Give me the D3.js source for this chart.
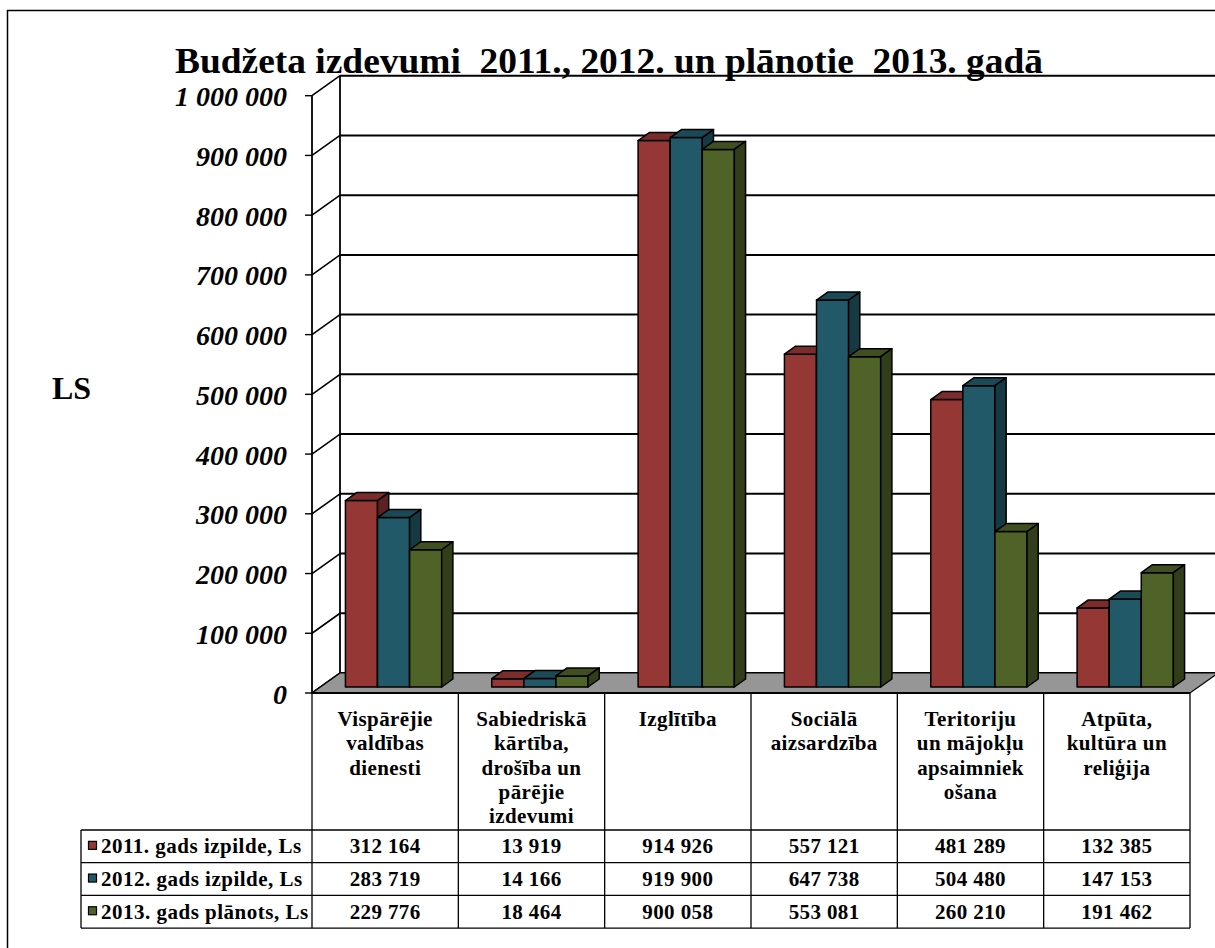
<!DOCTYPE html>
<html>
<head>
<meta charset="utf-8">
<script src="https://cdn.jsdelivr.net/npm/d3@7"></script>
<style>
  body { margin: 0; background: #fff; }
  svg { display: block; font-family: "Liberation Serif", "Times New Roman", serif; }
</style>
</head>
<body>
<svg width="1215" height="948"></svg>
<script>
// data
var categories = ["Vispārējie valdības dienesti", "Sabiedriskā kārtība, drošība un pārējie izdevumi",
                  "Izglītība", "Sociālā aizsardzība", "Teritoriju un mājokļu apsaimniekošana",
                  "Atpūta, kultūra un reliģija"];
var categoryLines = [
  ["Vispārējie", "valdības", "dienesti"],
  ["Sabiedriskā", "kārtība,", "drošība un", "pārējie", "izdevumi"],
  ["Izglītība"],
  ["Sociālā", "aizsardzība"],
  ["Teritoriju", "un mājokļu", "apsaimniek", "ošana"],
  ["Atpūta,", "kultūra un", "reliģija"]
];
var seriesNames = ["2011. gads izpilde, Ls", "2012. gads izpilde, Ls", "2013. gads plānots, Ls"];
var values2011 = [312164, 13919, 914926, 557121, 481289, 132385];
var values2012 = [283719, 14166, 919900, 647738, 504480, 147153];
var values2013 = [229776, 18464, 900058, 553081, 260210, 191462];
var yTickValues = [0, 100000, 200000, 300000, 400000, 500000, 600000, 700000, 800000, 900000, 1000000];

var seriesValues = [values2011, values2012, values2013];
// front, top, side shades
var shades = [
  ["#953735", "#7b2d2b", "#5c2120"],
  ["#215968", "#1b4a56", "#163a44"],
  ["#4f6228", "#3f4f20", "#323e19"]
];

var svg = d3.select("svg"),
    width = +svg.attr("width"),
    height = +svg.attr("height");

var loc = d3.formatLocale({ decimal: ",", thousands: " ", grouping: [3], currency: ["", ""] });
var fmt = loc.format(",d");

// 3D geometry
var left = 312, right = 1190, floorY = 693;
var DX = 28, DY = -20;          // depth vector of the plot box
var z0 = 0.3, z1 = 0.7;         // bars sit between these depths

var y = d3.scaleLinear().domain([0, 1000000]).range([floorY, 95.7]);
var x0 = d3.scaleBand().domain(categories).range([left, right]);
var x1 = d3.scaleBand().domain(seriesNames).range([0, x0.bandwidth()]).paddingOuter(0.78);

svg.append("rect").attr("width", width).attr("height", height).attr("fill", "#fff");

// outer frame
svg.append("rect")
  .attr("x", 7.5).attr("y", 10.5)
  .attr("width", width + 10).attr("height", height + 10)
  .attr("fill", "none").attr("stroke", "#000").attr("stroke-width", 1.5);

// title
svg.append("text")
  .attr("x", 175).attr("y", 72.5)
  .attr("font-size", 35).attr("font-weight", "bold")
  .attr("textLength", 868).attr("lengthAdjust", "spacingAndGlyphs")
  .style("white-space", "pre")
  .text("Budžeta izdevumi  2011., 2012. un plānotie  2013. gadā");

svg.append("text")
  .attr("x", 52).attr("y", 399)
  .attr("font-size", 32).attr("font-weight", "bold")
  .text("LS");

var grid = svg.append("g").attr("stroke", "#000").attr("fill", "none");

// back wall gridlines
grid.selectAll(".back")
  .data(yTickValues)
  .enter().append("line")
  .attr("x1", left + DX).attr("x2", right + DX + 30)
  .attr("y1", function(d) { return y(d) + DY; })
  .attr("y2", function(d) { return y(d) + DY; })
  .attr("stroke-width", 2);

// side wall gridlines
grid.selectAll(".side")
  .data(yTickValues)
  .enter().append("line")
  .attr("x1", left).attr("x2", left + DX)
  .attr("y1", function(d) { return y(d); })
  .attr("y2", function(d) { return y(d) + DY; })
  .attr("stroke-width", 1.6);

// tick marks
grid.selectAll(".tick")
  .data(yTickValues)
  .enter().append("line")
  .attr("x1", left - 7).attr("x2", left)
  .attr("y1", function(d) { return y(d); })
  .attr("y2", function(d) { return y(d); })
  .attr("stroke-width", 1.4);

grid.append("line")
  .attr("x1", left).attr("x2", left)
  .attr("y1", y(0)).attr("y2", y(1000000))
  .attr("stroke-width", 1.8);
grid.append("line")
  .attr("x1", left + DX).attr("x2", left + DX)
  .attr("y1", y(0) + DY).attr("y2", y(1000000) + DY)
  .attr("stroke-width", 1.8);

// floor
svg.append("polygon")
  .attr("points", [[left, floorY], [right, floorY], [right + DX, floorY + DY], [left + DX, floorY + DY]].join(" "))
  .attr("fill", "#969696").attr("stroke", "#000").attr("stroke-width", 1.2);
svg.append("line")
  .attr("x1", left).attr("x2", right)
  .attr("y1", floorY).attr("y2", floorY)
  .attr("stroke", "#000").attr("stroke-width", 2);

// bars
var bw = x1.bandwidth();
var bdx = (z1 - z0) * DX, bdy = (z1 - z0) * DY;
var bars = svg.append("g").attr("stroke", "#000").attr("stroke-width", 1.5).attr("stroke-linejoin", "round");

categories.forEach(function(cat, ci) {
  seriesNames.forEach(function(s, si) {
    var v = seriesValues[si][ci];
    var h = floorY - y(v);
    var xf = x0(cat) + x1(s) + z0 * DX;
    var yb = floorY + z0 * DY;
    var yt = yb - h;
    var g = bars.append("g");
    g.append("rect")
      .attr("x", xf).attr("y", yt).attr("width", bw).attr("height", h)
      .attr("fill", shades[si][0]);
    g.append("polygon")
      .attr("points", [[xf, yt], [xf + bw, yt], [xf + bw + bdx, yt + bdy], [xf + bdx, yt + bdy]].join(" "))
      .attr("fill", shades[si][1]);
    g.append("polygon")
      .attr("points", [[xf + bw, yt], [xf + bw + bdx, yt + bdy], [xf + bw + bdx, yb + bdy], [xf + bw, yb]].join(" "))
      .attr("fill", shades[si][2]);
  });
});

// y labels
svg.append("g")
  .selectAll("text")
  .data(yTickValues)
  .enter().append("text")
  .attr("x", 287)
  .attr("y", function(d) { return y(d) + 10.5; })
  .attr("text-anchor", "end")
  .attr("font-size", 28).attr("font-weight", "bold").attr("font-style", "italic")
  .text(function(d) { return fmt(d); });

// data table
var rowTop = 830, rowH = 32.7, legendLeft = 81;
var tbl = svg.append("g");
var lines = tbl.append("g").attr("stroke", "#000").attr("stroke-width", 1.3);
var colEdges = categories.map(function(c) { return x0(c); }).concat([right]);
var tableBottom = rowTop + rowH * seriesNames.length;

lines.selectAll(".v")
  .data(colEdges)
  .enter().append("line")
  .attr("x1", function(d) { return d; }).attr("x2", function(d) { return d; })
  .attr("y1", floorY).attr("y2", tableBottom);
lines.append("line")
  .attr("x1", legendLeft).attr("x2", legendLeft)
  .attr("y1", rowTop).attr("y2", tableBottom);
lines.selectAll(".h")
  .data(d3.range(seriesNames.length + 1))
  .enter().append("line")
  .attr("x1", legendLeft).attr("x2", right)
  .attr("y1", function(i) { return rowTop + i * rowH; })
  .attr("y2", function(i) { return rowTop + i * rowH; });

// category headers
categories.forEach(function(cat, ci) {
  var t = tbl.append("text")
    .attr("x", x0(cat) + x0.bandwidth() / 2)
    .attr("y", 726)
    .attr("text-anchor", "middle")
    .attr("font-size", 21).attr("font-weight", "bold")
    .attr("letter-spacing", 0.4);
  categoryLines[ci].forEach(function(line, li) {
    t.append("tspan")
      .attr("x", x0(cat) + x0.bandwidth() / 2)
      .attr("dy", li === 0 ? 0 : 24.3)
      .text(line);
  });
});

// rows
seriesNames.forEach(function(s, si) {
  var yc = rowTop + si * rowH + rowH / 2;
  tbl.append("rect")
    .attr("x", 88.5).attr("y", yc - 5)
    .attr("width", 8).attr("height", 8)
    .attr("fill", shades[si][0]).attr("stroke", "#000").attr("stroke-width", 1.2);
  tbl.append("text")
    .attr("x", 101).attr("y", yc + 7)
    .attr("font-size", 21).attr("font-weight", "bold")
    .attr("letter-spacing", 0.5)
    .text(s);
  tbl.selectAll(".val" + si)
    .data(seriesValues[si])
    .enter().append("text")
    .attr("x", function(d, ci) { return x0(categories[ci]) + x0.bandwidth() / 2; })
    .attr("y", yc + 7)
    .attr("text-anchor", "middle")
    .attr("font-size", 21).attr("font-weight", "bold")
    .attr("letter-spacing", 0.4)
    .text(function(d) { return fmt(d); });
});
</script>
</body>
</html>
